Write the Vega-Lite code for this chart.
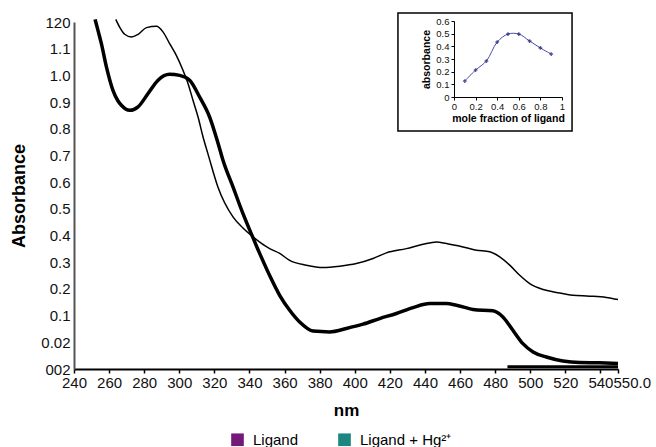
{
  "$schema": "https://vega.github.io/schema/vega-lite/v6.json",
  "width": 544,
  "height": 347,
  "autosize": {"type": "none"},
  "padding": {"left": 74, "top": 22, "right": 38, "bottom": 78},
  "background": "white",
  "config": {
    "view": {"stroke": null},
    "font": "Liberation Sans",
    "axis": {"grid": false, "zindex": 1, "labelColor": "#111", "titleColor": "#000", "labelOverlap": false}
  },
  "datasets": {
    "spectra": [
      {"s": "Ligand", "nm": 252, "abs": 1.21},
      {"s": "Ligand", "nm": 254, "abs": 1.16},
      {"s": "Ligand", "nm": 255.6, "abs": 1.119},
      {"s": "Ligand", "nm": 258.5, "abs": 1.031},
      {"s": "Ligand", "nm": 262.2, "abs": 0.944},
      {"s": "Ligand", "nm": 265, "abs": 0.905},
      {"s": "Ligand", "nm": 267, "abs": 0.888},
      {"s": "Ligand", "nm": 271.7, "abs": 0.869},
      {"s": "Ligand", "nm": 276.5, "abs": 0.882},
      {"s": "Ligand", "nm": 282.2, "abs": 0.932},
      {"s": "Ligand", "nm": 287.9, "abs": 0.982},
      {"s": "Ligand", "nm": 294.5, "abs": 1.004},
      {"s": "Ligand", "nm": 300.2, "abs": 1.0},
      {"s": "Ligand", "nm": 305.9, "abs": 0.982},
      {"s": "Ligand", "nm": 311.6, "abs": 0.919},
      {"s": "Ligand", "nm": 317.3, "abs": 0.844},
      {"s": "Ligand", "nm": 322, "abs": 0.748},
      {"s": "Ligand", "nm": 324.9, "abs": 0.682},
      {"s": "Ligand", "nm": 330.6, "abs": 0.582},
      {"s": "Ligand", "nm": 336.3, "abs": 0.482},
      {"s": "Ligand", "nm": 341, "abs": 0.407},
      {"s": "Ligand", "nm": 345.8, "abs": 0.333},
      {"s": "Ligand", "nm": 351.5, "abs": 0.25},
      {"s": "Ligand", "nm": 357.2, "abs": 0.176},
      {"s": "Ligand", "nm": 362.9, "abs": 0.12},
      {"s": "Ligand", "nm": 368.6, "abs": 0.076},
      {"s": "Ligand", "nm": 376.2, "abs": 0.042},
      {"s": "Ligand", "nm": 385.7, "abs": 0.039},
      {"s": "Ligand", "nm": 395.2, "abs": 0.052},
      {"s": "Ligand", "nm": 404.7, "abs": 0.068},
      {"s": "Ligand", "nm": 414.2, "abs": 0.089},
      {"s": "Ligand", "nm": 423.7, "abs": 0.108},
      {"s": "Ligand", "nm": 433.2, "abs": 0.13},
      {"s": "Ligand", "nm": 442.7, "abs": 0.145},
      {"s": "Ligand", "nm": 452.2, "abs": 0.145},
      {"s": "Ligand", "nm": 457.9, "abs": 0.139},
      {"s": "Ligand", "nm": 467.4, "abs": 0.123},
      {"s": "Ligand", "nm": 478.7, "abs": 0.118},
      {"s": "Ligand", "nm": 484.4, "abs": 0.095},
      {"s": "Ligand", "nm": 490.1, "abs": 0.045},
      {"s": "Ligand", "nm": 495.8, "abs": -0.005},
      {"s": "Ligand", "nm": 501.6, "abs": -0.036},
      {"s": "Ligand", "nm": 509.2, "abs": -0.055},
      {"s": "Ligand", "nm": 518.6, "abs": -0.07},
      {"s": "Ligand", "nm": 528.1, "abs": -0.076},
      {"s": "Ligand", "nm": 539.5, "abs": -0.077},
      {"s": "Ligand", "nm": 550, "abs": -0.079},
      {"s": "Ligand + Hg²⁺", "nm": 263.8, "abs": 1.21},
      {"s": "Ligand + Hg²⁺", "nm": 266, "abs": 1.181},
      {"s": "Ligand + Hg²⁺", "nm": 268.9, "abs": 1.154},
      {"s": "Ligand + Hg²⁺", "nm": 272.7, "abs": 1.144},
      {"s": "Ligand + Hg²⁺", "nm": 276.5, "abs": 1.154},
      {"s": "Ligand + Hg²⁺", "nm": 281.3, "abs": 1.179},
      {"s": "Ligand + Hg²⁺", "nm": 287, "abs": 1.184},
      {"s": "Ligand + Hg²⁺", "nm": 290.7, "abs": 1.163},
      {"s": "Ligand + Hg²⁺", "nm": 294.5, "abs": 1.119},
      {"s": "Ligand + Hg²⁺", "nm": 298.3, "abs": 1.075},
      {"s": "Ligand + Hg²⁺", "nm": 302.1, "abs": 1.019},
      {"s": "Ligand + Hg²⁺", "nm": 305, "abs": 0.969},
      {"s": "Ligand + Hg²⁺", "nm": 307.8, "abs": 0.907},
      {"s": "Ligand + Hg²⁺", "nm": 310.7, "abs": 0.844},
      {"s": "Ligand + Hg²⁺", "nm": 313.5, "abs": 0.77},
      {"s": "Ligand + Hg²⁺", "nm": 316.3, "abs": 0.707},
      {"s": "Ligand + Hg²⁺", "nm": 322, "abs": 0.582},
      {"s": "Ligand + Hg²⁺", "nm": 330.6, "abs": 0.47},
      {"s": "Ligand + Hg²⁺", "nm": 336, "abs": 0.43},
      {"s": "Ligand + Hg²⁺", "nm": 342, "abs": 0.395},
      {"s": "Ligand + Hg²⁺", "nm": 351.5, "abs": 0.351},
      {"s": "Ligand + Hg²⁺", "nm": 357.2, "abs": 0.333},
      {"s": "Ligand + Hg²⁺", "nm": 362.9, "abs": 0.307},
      {"s": "Ligand + Hg²⁺", "nm": 372.4, "abs": 0.289},
      {"s": "Ligand + Hg²⁺", "nm": 381.9, "abs": 0.28},
      {"s": "Ligand + Hg²⁺", "nm": 391.4, "abs": 0.285},
      {"s": "Ligand + Hg²⁺", "nm": 400.9, "abs": 0.295},
      {"s": "Ligand + Hg²⁺", "nm": 410.4, "abs": 0.314},
      {"s": "Ligand + Hg²⁺", "nm": 418, "abs": 0.335},
      {"s": "Ligand + Hg²⁺", "nm": 429.4, "abs": 0.351},
      {"s": "Ligand + Hg²⁺", "nm": 438.9, "abs": 0.367},
      {"s": "Ligand + Hg²⁺", "nm": 446.5, "abs": 0.376},
      {"s": "Ligand + Hg²⁺", "nm": 452.2, "abs": 0.37},
      {"s": "Ligand + Hg²⁺", "nm": 461.7, "abs": 0.357},
      {"s": "Ligand + Hg²⁺", "nm": 469.3, "abs": 0.345},
      {"s": "Ligand + Hg²⁺", "nm": 476.9, "abs": 0.339},
      {"s": "Ligand + Hg²⁺", "nm": 482.6, "abs": 0.32},
      {"s": "Ligand + Hg²⁺", "nm": 488.3, "abs": 0.289},
      {"s": "Ligand + Hg²⁺", "nm": 494, "abs": 0.251},
      {"s": "Ligand + Hg²⁺", "nm": 499.7, "abs": 0.22},
      {"s": "Ligand + Hg²⁺", "nm": 507.3, "abs": 0.198},
      {"s": "Ligand + Hg²⁺", "nm": 514.9, "abs": 0.187},
      {"s": "Ligand + Hg²⁺", "nm": 524.3, "abs": 0.176},
      {"s": "Ligand + Hg²⁺", "nm": 533.8, "abs": 0.173},
      {"s": "Ligand + Hg²⁺", "nm": 543.3, "abs": 0.168},
      {"s": "Ligand + Hg²⁺", "nm": 550, "abs": 0.16},
      {"s": "base", "nm": 487, "abs": -0.092},
      {"s": "base", "nm": 550, "abs": -0.092}
    ],
    "job": [
      {"mf": 0.1, "ai": 0.126},
      {"mf": 0.2, "ai": 0.213},
      {"mf": 0.3, "ai": 0.284},
      {"mf": 0.4, "ai": 0.434},
      {"mf": 0.5, "ai": 0.497},
      {"mf": 0.6, "ai": 0.497},
      {"mf": 0.7, "ai": 0.442},
      {"mf": 0.8, "ai": 0.387},
      {"mf": 0.9, "ai": 0.339}
    ]
  },
  "layer": [
    {
      "data": {"name": "spectra"},
      "layer": [
        {
          "transform": [{"filter": "datum.s == 'Ligand'"}],
          "mark": {"type": "line", "color": "black", "strokeWidth": 3.5, "interpolate": "monotone"},
          "encoding": {
            "x": {
              "field": "nm", "type": "quantitative",
              "scale": {"domain": [240, 550], "nice": false, "zero": false},
              "axis": {
                "orient": "bottom", "title": "nm", "tickCount": 30,
                "values": [240, 260, 280, 300, 320, 340, 360, 380, 400, 420, 440, 460, 480, 500, 520, 540, 550],
                "labelExpr": "datum.value == 550 ? '550.0' : datum.label",
                "labelAlign": {"condition": {"test": "datum.value == 550", "value": "left"}, "value": "center"},
                "labelOffset": {"condition": {"test": "datum.value == 550", "value": -5}, "value": 0},
                "labelOverlap": false, "labelFlush": false, "labelFontSize": 15, "labelPadding": 2,
                "domainColor": "black", "domainWidth": 2, "tickColor": "black", "tickWidth": 1.5, "tickSize": 4,
                "titleFontSize": 17, "titleFontWeight": "bold", "titlePadding": 12
              }
            },
            "y": {
              "field": "abs", "type": "quantitative",
              "scale": {"domain": [-0.1, 1.2], "nice": false, "zero": false},
              "axis": {
                "orient": "left", "title": "Absorbance", "tickCount": 30,
                "values": [-0.1, 0, 0.1, 0.2, 0.3, 0.4, 0.5, 0.6, 0.7, 0.8, 0.9, 1.0, 1.1, 1.2],
                "labelExpr": "datum.value < -0.05 ? '002' : (datum.value < 0.05 ? '0.02' : (datum.value > 1.15 ? '120' : format(datum.value, '.1f')))",
                "ticks": false, "labelPadding": 4, "labelFontSize": 15, "labelOverlap": false, "labelFlush": false,
                "domainColor": "#555", "domainWidth": 2,
                "titleFontSize": 18, "titleFontWeight": "bold", "titlePadding": 12
              }
            }
          }
        },
        {
          "transform": [{"filter": "datum.s == 'Ligand + Hg²⁺'"}],
          "mark": {"type": "line", "color": "black", "strokeWidth": 1.5, "interpolate": "monotone"},
          "encoding": {
            "x": {"field": "nm", "type": "quantitative"},
            "y": {"field": "abs", "type": "quantitative"}
          }
        },
        {
          "transform": [{"filter": "datum.s == 'base'"}],
          "mark": {"type": "line", "color": "black", "strokeWidth": 3},
          "encoding": {
            "x": {"field": "nm", "type": "quantitative"},
            "y": {"field": "abs", "type": "quantitative"}
          }
        },
        {
          "transform": [{"filter": "datum.s != 'base'"}],
          "mark": {"type": "point", "shape": "square", "filled": true, "opacity": 0},
          "encoding": {
            "x": {"field": "nm", "type": "quantitative"},
            "y": {"field": "abs", "type": "quantitative"},
            "color": {
              "field": "s", "type": "nominal",
              "scale": {"domain": ["Ligand", "Ligand + Hg²⁺"], "range": ["#74197a", "#1c8781"]},
              "legend": {
                "orient": "none", "legendX": 156, "legendY": 410, "direction": "horizontal",
                "title": null, "symbolType": "square", "symbolSize": 160, "symbolOpacity": 1,
                "symbolStrokeWidth": 0, "labelFontSize": 15, "labelOffset": 8, "columnPadding": 38, "padding": 0
              }
            }
          }
        }
      ]
    },
    {
      "data": {"name": "job"},
      "layer": [
        {
          "data": {"values": [{}]},
          "mark": {"type": "rect", "fill": "white", "stroke": "black", "strokeWidth": 1.5},
          "encoding": {
            "x": {"datum": -0.519, "type": "quantitative"},
            "x2": {"datum": 1.093},
            "y": {"datum": -0.268, "type": "quantitative"},
            "y2": {"datum": 0.663}
          }
        },
        {
          "mark": {"type": "line", "color": "#4b4baa", "strokeWidth": 1, "interpolate": "catmull-rom"},
          "encoding": {
            "x": {
              "field": "mf", "type": "quantitative",
              "scale": {"domain": [0, 1], "range": [380, 488], "nice": false, "zero": false},
              "axis": {
                "orient": "bottom", "offset": -272, "title": "mole fraction of ligand", "tickCount": 20,
                "values": [0, 0.2, 0.4, 0.6, 0.8, 1], "format": ".1~f",
                "labelFontSize": 9.5, "labelPadding": 1, "labelFlush": false, "labelOverlap": false,
                "tickSize": 3, "tickColor": "black", "domainColor": "black", "domainWidth": 1,
                "titleFontSize": 10.5, "titleFontWeight": "bold", "titlePadding": 3, "zindex": 2
              }
            },
            "y": {
              "field": "ai", "type": "quantitative",
              "scale": {"domain": [0, 0.6], "range": [75, -1], "nice": false, "zero": false},
              "axis": {
                "orient": "left", "offset": -380, "title": "absorbance", "tickCount": 20,
                "values": [0, 0.1, 0.2, 0.3, 0.4, 0.5, 0.6], "format": ".1~f",
                "labelFontSize": 9.5, "labelPadding": 2, "labelFlush": false, "labelOverlap": false,
                "tickSize": 3, "tickColor": "black", "domainColor": "black", "domainWidth": 1,
                "titleFontSize": 10.5, "titleFontWeight": "bold", "titlePadding": 4, "zindex": 2
              }
            }
          }
        },
        {
          "mark": {"type": "point", "shape": "cross", "size": 14, "filled": true, "color": "#1a1a6e"},
          "encoding": {
            "x": {"field": "mf", "type": "quantitative"},
            "y": {"field": "ai", "type": "quantitative"}
          }
        }
      ]
    }
  ],
  "resolve": {"scale": {"x": "independent", "y": "independent"}}
}
